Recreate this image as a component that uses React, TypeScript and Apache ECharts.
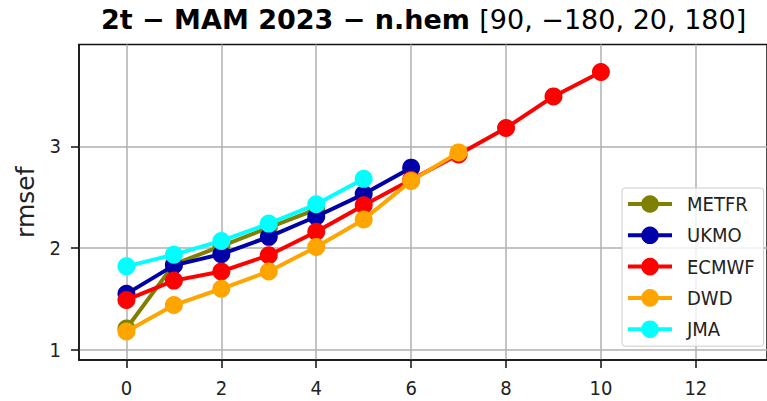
import React, { useEffect, useRef } from "react";
import * as echarts from "echarts";

const leadTimes = [0, 1, 2, 3, 4, 5, 6, 7, 8, 9, 10];
const seriesNames = ["METFR", "UKMO", "ECMWF", "DWD", "JMA"];
const metfr = [1.21, 1.84, 2.02, 2.2, 2.38];
const ukmo = [1.55, 1.83, 1.94, 2.11, 2.31, 2.53, 2.79];
const ecmwf = [1.49, 1.68, 1.77, 1.93, 2.16, 2.42, 2.67, 2.92, 3.18, 3.49, 3.73];
const dwd = [1.18, 1.44, 1.6, 1.77, 2.01, 2.28, 2.66, 2.94];
const jma = [1.82, 1.935, 2.07, 2.24, 2.43, 2.68];
const seriesValues = [metfr, ukmo, ecmwf, dwd, jma];
const seriesColors = ["#808000", "#0000a8", "#ff0000", "#ffa500", "#00ffff"];
const xTicks = [0, 2, 4, 6, 8, 10, 12];
const yTicks = [1, 2, 3];
const titleBold = "2t − MAM 2023 − n.hem ";
const titleRegular = "[90, −180, 20, 180]";
const yName = "rmsef";

const tickFont = "'DejaVu Sans Condensed', 'Liberation Sans Narrow', 'DejaVu Sans', sans-serif";

export default function App() {
  const ref = useRef<HTMLDivElement>(null);
  useEffect(() => {
    document.body.style.margin = "0";
    if (!ref.current) return;
    const chart = echarts.init(ref.current, null, { renderer: "svg" });
    const series = seriesValues.map((vals, si) => ({
      type: "line",
      name: seriesNames[si],
      data: vals.map((v, i) => [leadTimes[i], v]),
      symbol: "circle",
      symbolSize: 18,
      showSymbol: true,
      color: seriesColors[si],
      lineStyle: { width: 4, color: seriesColors[si] },
      itemStyle: { color: seriesColors[si] },
      z: 3 + si,
    }));
    chart.setOption({
      animation: false,
      backgroundColor: "#ffffff",
      title: {
        left: 96,
        top: 1,
        text: `{b|${titleBold}}{r|${titleRegular}}`,
        textStyle: {
          rich: {
            b: {
              fontFamily: "'DejaVu Sans', sans-serif",
              fontWeight: "bold",
              fontSize: 27,
              color: "#000",
            },
            r: {
              fontFamily: "'DejaVu Sans', sans-serif",
              fontWeight: "normal",
              fontSize: 27,
              color: "#000",
            },
          },
        },
      },
      grid: {
        left: 79,
        top: 44.5,
        width: 693.5,
        height: 315.5,
        show: true,
        borderColor: "#111",
        borderWidth: 1.5,
        backgroundColor: "transparent",
      },
      xAxis: {
        type: "value",
        min: -1,
        max: 13.5,
        axisLine: { show: true, onZero: false, lineStyle: { color: "#111", width: 1.5 } },
        axisTick: {
          show: true,
          length: 8,
          lineStyle: { color: "#111", width: 1.5 },
          customValues: xTicks,
        },
        axisLabel: {
          customValues: xTicks,
          margin: 18,
          fontSize: 20,
          fontFamily: tickFont,
          color: "#222",
        },
        splitLine: { show: true, lineStyle: { color: "#b0b0b0", width: 1.5 } },
      },
      yAxis: {
        type: "value",
        min: 0.9,
        max: 4.0,
        name: yName,
        nameLocation: "middle",
        nameGap: 41,
        nameTextStyle: {
          fontSize: 25,
          fontFamily: "'DejaVu Sans', sans-serif",
          color: "#222",
        },
        axisLine: { show: true, onZero: false, lineStyle: { color: "#111", width: 1.5 } },
        axisTick: {
          show: true,
          length: 8,
          lineStyle: { color: "#111", width: 1.5 },
          customValues: yTicks,
        },
        axisLabel: {
          customValues: yTicks,
          margin: 18,
          fontSize: 20,
          fontFamily: tickFont,
          color: "#222",
        },
        splitLine: { show: true, lineStyle: { color: "#b0b0b0", width: 1.5 } },
      },
      legend: {
        data: seriesNames,
        orient: "vertical",
        left: 622,
        top: 188,
        itemWidth: 44,
        itemHeight: 22,
        itemGap: 11.3,
        padding: [6, 9, 7, 4],
        backgroundColor: "rgba(255,255,255,0.8)",
        borderColor: "#cccccc",
        borderWidth: 1,
        borderRadius: 3,
        lineStyle: { width: 4 },
        textStyle: {
          fontSize: 20,
          fontFamily: tickFont,
          color: "#222",
          padding: [0, 0, 0, 10],
        },
      },
      series,
    });
    return () => chart.dispose();
  }, []);
  return <div ref={ref} style={{ width: 767, height: 401 }} />;
}
